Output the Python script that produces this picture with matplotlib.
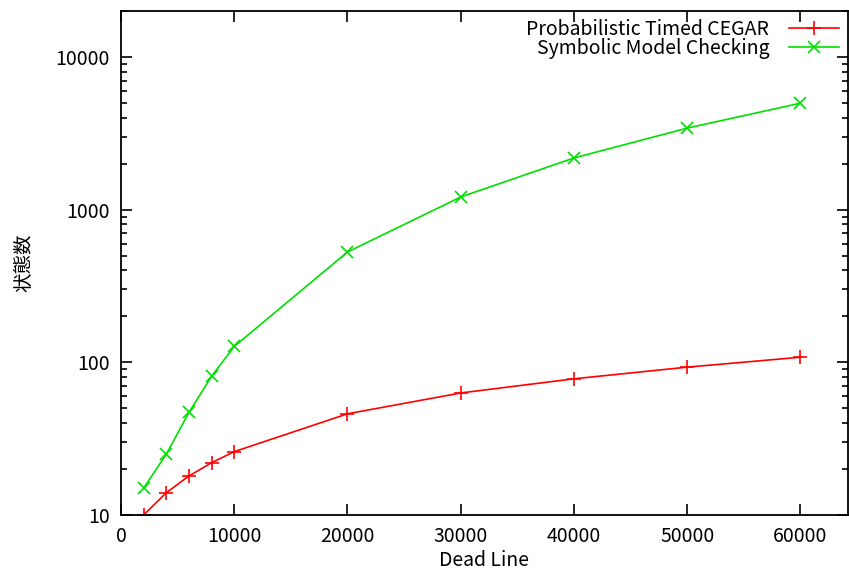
import matplotlib
matplotlib.use("Agg")
import matplotlib.pyplot as plt
from matplotlib.ticker import LogLocator, FixedLocator, NullFormatter

plt.rcParams['font.family'] = ['Noto Sans CJK JP', 'DejaVu Sans']

deadline = [2000, 4000, 6000, 8000, 10000, 20000, 30000, 40000, 50000, 60000]
cegar = [10, 14, 18, 22, 26, 46, 63, 78, 93, 108]
symbolic = [15, 25, 47, 81, 127, 528, 1210, 2180, 3420, 4980]
xticks = [0, 10000, 20000, 30000, 40000, 50000, 60000]
yticks = [10, 100, 1000, 10000]

fig = plt.figure(figsize=(8.49, 5.73), dpi=100)
ax = fig.add_axes([0.1425, 0.1012, 0.8563, 0.8796])

ax.plot(deadline, cegar, color='#ff0000', lw=1.2, marker='+', ms=10, mew=1.2,
        label='Probabilistic Timed CEGAR')
ax.plot(deadline, symbolic, color='#00e000', lw=1.2, marker='x', ms=9, mew=1.2,
        label='Symbolic Model Checking')

ax.set_yscale('log')
ax.set_xlim(0, 64200)
ax.set_ylim(10, 20000)
ax.xaxis.set_major_locator(FixedLocator(xticks))
ax.yaxis.set_major_locator(FixedLocator(yticks))
ax.yaxis.set_minor_locator(LogLocator(base=10, subs=range(2, 10)))
ax.yaxis.set_minor_formatter(NullFormatter())
ax.set_xticklabels([str(t) for t in xticks])
ax.set_yticklabels([str(t) for t in yticks])

ax.tick_params(which='both', direction='in', top=True, right=True, width=1.2,
               labelsize=14, pad=8)
ax.tick_params(which='major', length=8)
ax.tick_params(which='minor', length=4)
for s in ax.spines.values():
    s.set_linewidth(1.3)

ax.set_xlabel('Dead Line', fontsize=14, labelpad=2)
ax.set_ylabel('状態数', fontsize=14, labelpad=15)

ax.legend(loc='upper right', bbox_to_anchor=(1.004, 1.008), frameon=False,
          markerfirst=False, fontsize=14, handlelength=2.6, labelspacing=-0.08,
          borderaxespad=0.2, handletextpad=1.0)

fig.savefig('out.png', dpi=100)
